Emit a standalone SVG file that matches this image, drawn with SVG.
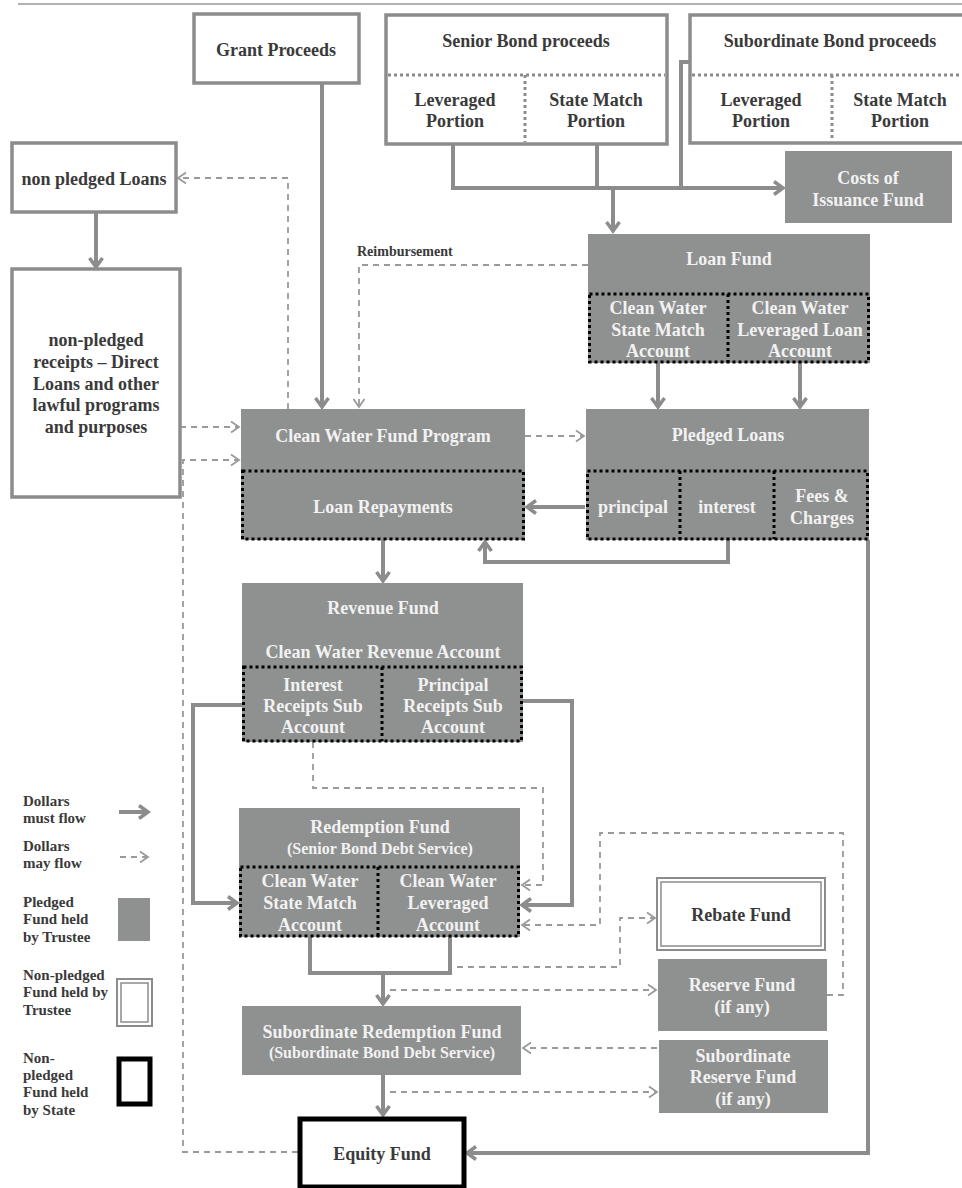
<svg xmlns="http://www.w3.org/2000/svg" width="962" height="1188" viewBox="0 0 962 1188">
<style>
.box{fill:#fff;stroke:#8c8c8c;stroke-width:3.5}
.gbox{fill:#8f9090}
.dot{fill:none;stroke:#000;stroke-width:3;stroke-dasharray:3 3}
.gdot{fill:none;stroke:#8c8c8c;stroke-width:3;stroke-dasharray:3 3}
.t{font-family:"Liberation Serif","Times New Roman",serif;font-weight:bold;font-size:18px;text-anchor:middle}
.w{fill:#f2f2f2}
.d{fill:#3a3a3a}
.sub{font-size:16px}
.lg{font-size:15px;text-anchor:start}
.solid{fill:none;stroke:#8c8c8c;stroke-width:4}
.dash{fill:none;stroke:#9a9a9a;stroke-width:1.8;stroke-dasharray:6 5}
</style>
<defs>
<marker id="ms" markerUnits="userSpaceOnUse" markerWidth="16" markerHeight="16" viewBox="0 0 16 16" refX="13" refY="8" orient="auto">
<path d="M4,1.5 L13,8 L4,14.5" fill="none" stroke="#8c8c8c" stroke-width="3.5"/>
</marker>
<marker id="md" markerUnits="userSpaceOnUse" markerWidth="14" markerHeight="14" viewBox="0 0 14 14" refX="11" refY="7" orient="auto">
<path d="M3,1.5 L11,7 L3,12.5" fill="none" stroke="#9a9a9a" stroke-width="1.8"/>
</marker>
</defs>
<rect width="962" height="1188" fill="#fff"/>
<line x1="18" y1="4" x2="962" y2="4" stroke="#999" stroke-width="1.5"/>

<g id="connectors">
<path class="solid" d="M322,83 V407" marker-end="url(#ms)"/>
<path class="solid" d="M453,144 V188 H783" marker-end="url(#ms)"/>
<path class="solid" d="M597,144 V188"/>
<path class="solid" d="M690,62 H681 V188"/>
<path class="solid" d="M613,188 V231" marker-end="url(#ms)"/>
<path class="solid" d="M658,363 V407" marker-end="url(#ms)"/>
<path class="solid" d="M800,363 V407" marker-end="url(#ms)"/>
<path class="solid" d="M585,507 H527" marker-end="url(#ms)"/>
<path class="solid" d="M728,540 V562 H485 V542" marker-end="url(#ms)"/>
<path class="solid" d="M868,540 V1153 H467" marker-end="url(#ms)"/>
<path class="solid" d="M383,540 V581" marker-end="url(#ms)"/>
<path class="solid" d="M96,212 V267" marker-end="url(#ms)"/>
<path class="solid" d="M242,705 H193 V903 H237" marker-end="url(#ms)"/>
<path class="solid" d="M523,701 H572 V905 H522" marker-end="url(#ms)"/>
<path class="solid" d="M310,937 V973 H450 V937"/>
<path class="solid" d="M383,973 V1004" marker-end="url(#ms)"/>
<path class="solid" d="M383,1075 V1115" marker-end="url(#ms)"/>

<path class="dash" d="M288,409 V178 H178" marker-end="url(#md)"/>
<path class="dash" d="M588,265 H359 V407" marker-end="url(#md)"/>
<path class="dash" d="M180,427 H239" marker-end="url(#md)"/>
<path class="dash" d="M298,1152 H183 V460 H239" marker-end="url(#md)"/>
<path class="dash" d="M525,436 H584" marker-end="url(#md)"/>
<path class="dash" d="M313,742 V788 H543 V885 H522" marker-end="url(#md)"/>
<path class="dash" d="M827,995 H843 V833 H600 V925 H522" marker-end="url(#md)"/>
<path class="dash" d="M457,967 H620 V918 H655" marker-end="url(#md)"/>
<path class="dash" d="M390,990 H656" marker-end="url(#md)"/>
<path class="dash" d="M657,1048 H523" marker-end="url(#md)"/>
<path class="dash" d="M390,1092 H657" marker-end="url(#md)"/>
<text class="t d" x="357" y="256" style="font-size:14px;text-anchor:start">Reimbursement</text>
</g>

<g id="grant">
<rect class="box" x="194" y="14" width="165" height="69"/>
<text class="t d" x="276" y="56">Grant Proceeds</text>
</g>

<g id="senior-bond">
<rect class="box" x="386" y="15" width="281" height="129"/>
<line class="gdot" x1="388" y1="75" x2="665" y2="75"/>
<line class="gdot" x1="525" y1="75" x2="525" y2="142"/>
<text class="t d" x="526" y="47">Senior Bond proceeds</text>
<text class="t d" x="455" y="106">Leveraged</text>
<text class="t d" x="455" y="127">Portion</text>
<text class="t d" x="596" y="106">State Match</text>
<text class="t d" x="596" y="127">Portion</text>
</g>

<g id="sub-bond">
<rect class="box" x="690" y="15" width="280" height="128"/>
<line class="gdot" x1="692" y1="75" x2="962" y2="75"/>
<line class="gdot" x1="832" y1="75" x2="832" y2="141"/>
<text class="t d" x="830" y="47">Subordinate Bond proceeds</text>
<text class="t d" x="761" y="106">Leveraged</text>
<text class="t d" x="761" y="127">Portion</text>
<text class="t d" x="900" y="106">State Match</text>
<text class="t d" x="900" y="127">Portion</text>
</g>

<g id="costs">
<rect class="gbox" x="785" y="151" width="167" height="72"/>
<text class="t w" x="868" y="184">Costs of</text>
<text class="t w" x="868" y="206">Issuance Fund</text>
</g>

<g id="loan-fund">
<rect class="gbox" x="588" y="234" width="282" height="129"/>
<text class="t w" x="729" y="265">Loan Fund</text>
<rect class="dot" x="589.5" y="294" width="279" height="68"/>
<line class="dot" x1="728" y1="294" x2="728" y2="362"/>
<text class="t w" x="658" y="314">Clean Water</text>
<text class="t w" x="658" y="336">State Match</text>
<text class="t w" x="658" y="357">Account</text>
<text class="t w" x="800" y="314">Clean Water</text>
<text class="t w" x="800" y="336">Leveraged Loan</text>
<text class="t w" x="800" y="357">Account</text>
</g>

<g id="pledged-loans">
<rect class="gbox" x="586" y="409" width="283" height="131"/>
<text class="t w" x="728" y="441">Pledged Loans</text>
<rect class="dot" x="587.5" y="471" width="280" height="68"/>
<line class="dot" x1="680" y1="471" x2="680" y2="539"/>
<line class="dot" x1="774" y1="471" x2="774" y2="539"/>
<text class="t w" x="633" y="513">principal</text>
<text class="t w" x="727" y="513">interest</text>
<text class="t w" x="822" y="502">Fees &amp;</text>
<text class="t w" x="822" y="524">Charges</text>
</g>

<g id="cwfp">
<rect class="gbox" x="241" y="409" width="284" height="131"/>
<text class="t w" x="383" y="442">Clean Water Fund Program</text>
<rect class="dot" x="242.5" y="471" width="281" height="68"/>
<text class="t w" x="383" y="513">Loan Repayments</text>
</g>

<g id="non-pledged-loans">
<rect class="box" x="12" y="143" width="164" height="69"/>
<text class="t d" x="94" y="185">non pledged Loans</text>
</g>

<g id="non-pledged-receipts">
<rect class="box" x="12" y="269" width="168" height="228"/>
<text class="t d" x="96" y="346">non-pledged</text>
<text class="t d" x="96" y="368">receipts – Direct</text>
<text class="t d" x="96" y="390">Loans and other</text>
<text class="t d" x="96" y="411">lawful programs</text>
<text class="t d" x="96" y="433">and purposes</text>
</g>

<g id="revenue-fund">
<rect class="gbox" x="242" y="583" width="281" height="159"/>
<text class="t w" x="383" y="614">Revenue Fund</text>
<text class="t w" x="383" y="658">Clean Water Revenue Account</text>
<rect class="dot" x="243.5" y="667" width="278" height="74"/>
<line class="dot" x1="382" y1="667" x2="382" y2="741"/>
<text class="t w" x="313" y="691">Interest</text>
<text class="t w" x="313" y="712">Receipts Sub</text>
<text class="t w" x="313" y="733">Account</text>
<text class="t w" x="453" y="691">Principal</text>
<text class="t w" x="453" y="712">Receipts Sub</text>
<text class="t w" x="453" y="733">Account</text>
</g>

<g id="redemption-fund">
<rect class="gbox" x="239" y="808" width="281" height="129"/>
<text class="t w" x="380" y="833">Redemption Fund</text>
<text class="t w sub" x="380" y="854">(Senior Bond Debt Service)</text>
<rect class="dot" x="240.5" y="867" width="278" height="69"/>
<line class="dot" x1="378" y1="867" x2="378" y2="936"/>
<text class="t w" x="310" y="887">Clean Water</text>
<text class="t w" x="310" y="909">State Match</text>
<text class="t w" x="310" y="931">Account</text>
<text class="t w" x="448" y="887">Clean Water</text>
<text class="t w" x="448" y="909">Leveraged</text>
<text class="t w" x="448" y="931">Account</text>
</g>

<g id="rebate-fund">
<rect x="657" y="878" width="168" height="72" fill="#fff" stroke="#8c8c8c" stroke-width="2"/>
<rect x="661" y="882" width="160" height="64" fill="none" stroke="#8c8c8c" stroke-width="1.5"/>
<text class="t d" x="741" y="921">Rebate Fund</text>
</g>

<g id="reserve-fund">
<rect class="gbox" x="658" y="959" width="169" height="72"/>
<text class="t w" x="742" y="991">Reserve Fund</text>
<text class="t w" x="742" y="1013">(if any)</text>
</g>

<g id="sub-reserve-fund">
<rect class="gbox" x="659" y="1040" width="169" height="73"/>
<text class="t w" x="743" y="1062">Subordinate</text>
<text class="t w" x="743" y="1083">Reserve Fund</text>
<text class="t w" x="743" y="1105">(if any)</text>
</g>

<g id="sub-redemption-fund">
<rect class="gbox" x="242" y="1006" width="279" height="69"/>
<text class="t w" x="382" y="1038">Subordinate Redemption Fund</text>
<text class="t w sub" x="382" y="1058">(Subordinate Bond Debt Service)</text>
</g>

<g id="equity-fund">
<rect x="300" y="1119" width="164" height="68" fill="#fff" stroke="#000" stroke-width="5"/>
<text class="t d" x="382" y="1160">Equity Fund</text>
</g>

<g id="legend">
<text class="t d lg" x="23" y="806">Dollars</text>
<text class="t d lg" x="23" y="823">must flow</text>
<path class="solid" d="M119,812 H148" marker-end="url(#ms)"/>
<text class="t d lg" x="23" y="851">Dollars</text>
<text class="t d lg" x="23" y="868">may flow</text>
<path class="dash" d="M120,857 H148" marker-end="url(#md)"/>
<text class="t d lg" x="23" y="907">Pledged</text>
<text class="t d lg" x="23" y="924">Fund held</text>
<text class="t d lg" x="23" y="942">by Trustee</text>
<rect class="gbox" x="118" y="898" width="32" height="43"/>
<text class="t d lg" x="23" y="980">Non-pledged</text>
<text class="t d lg" x="23" y="997">Fund held by</text>
<text class="t d lg" x="23" y="1015">Trustee</text>
<rect x="117" y="979" width="35" height="47" fill="#fff" stroke="#8c8c8c" stroke-width="2"/>
<rect x="121" y="983" width="27" height="39" fill="none" stroke="#8c8c8c" stroke-width="1.5"/>
<text class="t d lg" x="23" y="1063">Non-</text>
<text class="t d lg" x="23" y="1080">pledged</text>
<text class="t d lg" x="23" y="1097">Fund held</text>
<text class="t d lg" x="23" y="1115">by State</text>
<rect x="119" y="1059" width="31" height="45" fill="#fff" stroke="#000" stroke-width="5"/>
</g>
</svg>
